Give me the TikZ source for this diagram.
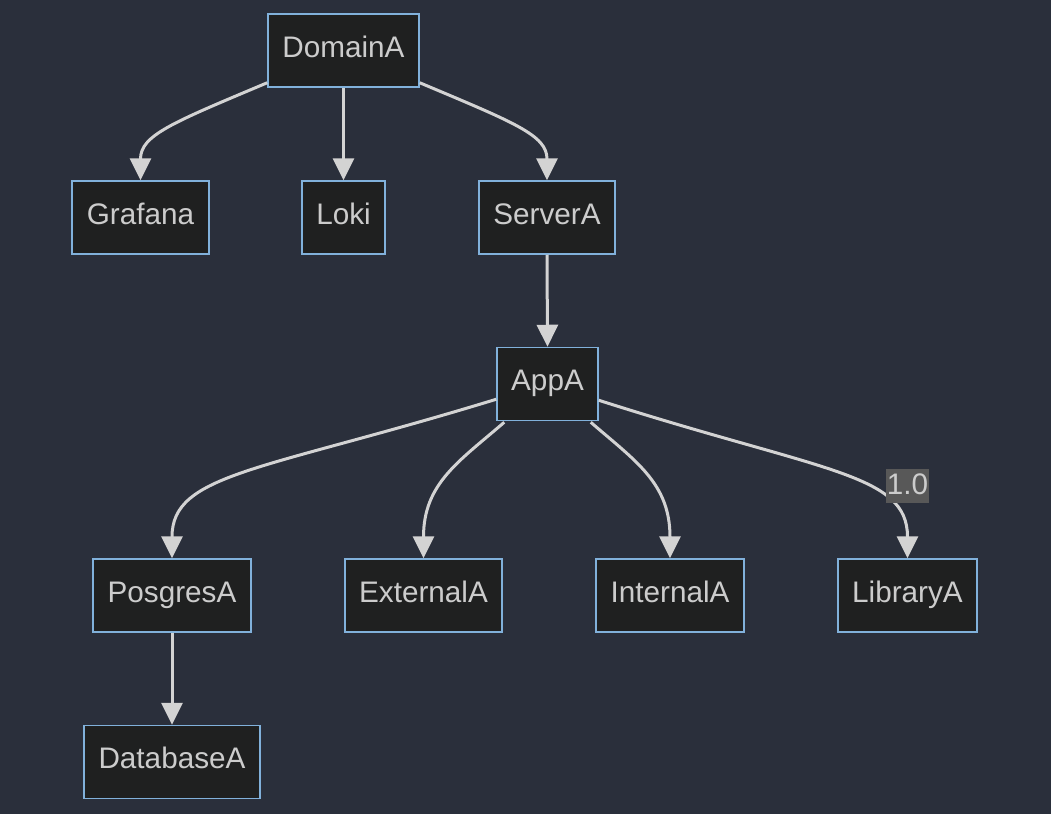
\documentclass[tikz,border=0pt]{standalone}
\usepackage{fontspec}
\setmainfont{Liberation Sans}
\usetikzlibrary{arrows.meta}
\definecolor{bgc}{RGB}{42,47,59}
\definecolor{boxfill}{HTML}{1F2020}
\definecolor{boxline}{HTML}{81B1DB}
\definecolor{txt}{HTML}{CCCCCC}
\definecolor{edgec}{HTML}{D3D3D3}
\definecolor{lblbg}{HTML}{585858}
\tikzset{
  box/.style={draw=boxline, line width=1.5pt, fill=boxfill, text=txt,
    font=\fontsize{29.7}{32}\selectfont, inner xsep=0pt, inner ysep=0pt,
    text height=43pt, text depth=30pt, align=center},
  edge/.style={draw=edgec, line width=3pt, -{Triangle[length=22pt,width=21pt]}},
  lbl/.style={fill=lblbg, text=txt, font=\fontsize{29.7}{32}\selectfont, inner xsep=1pt, inner ysep=0pt,
    text height=25pt, text depth=9pt}
}
\begin{document}
\begin{tikzpicture}[x=1pt,y=-1pt]
\fill[bgc] (0,0) rectangle (1051,814);
\useasboundingbox (0,0) rectangle (1051,814);
\node[box, minimum width=151pt] (dA) at (343.5,50.5) {DomainA};
\node[box, minimum width=137pt] (g) at (140.5,217.5) {Grafana};
\node[box, minimum width=83pt] (lk) at (343.5,217.5) {Loki};
\node[box, minimum width=136pt] (s) at (547,217.5) {ServerA};
\node[box, minimum width=101pt] (a) at (547.5,384) {AppA};
\node[box, minimum width=158pt] (p) at (172,595.5) {PosgresA};
\node[box, minimum width=157pt] (e) at (423.5,595.5) {ExternalA};
\node[box, minimum width=148pt] (i) at (670,595.5) {InternalA};
\node[box, minimum width=139pt] (l) at (907.5,595.5) {LibraryA};
\node[box, minimum width=176pt] (d) at (172,762) {DatabaseA};

\draw[edge] ([yshift=5pt]dA.south west) .. controls +(-95,40) and +(0,-45) .. (g.north);
\draw[edge] (dA.south) -- (lk.north);
\draw[edge] ([yshift=5pt]dA.south east) .. controls +(95,40) and +(0,-45) .. (s.north);
\draw[edge] (s.south) -- (a.north);
\draw[edge] ([yshift=22pt]a.south west) .. controls +(-235,72) and +(0,-85) .. (p.north);
\draw[edge] ([xshift=8pt,yshift=-1pt]a.south west) .. controls +(-45,39) and +(0,-75) .. (e.north);
\draw[edge] ([xshift=-8pt,yshift=-1pt]a.south east) .. controls +(45,39) and +(0,-75) .. (i.north);
\draw[edge] ([yshift=21pt]a.south east) .. controls +(225,72) and +(0,-85) .. (l.north);
\draw[edge] (p.south) -- (d.north);
\node[lbl] (lb) at ([yshift=72pt]l.north) {1.0};
\end{tikzpicture}
\end{document}
